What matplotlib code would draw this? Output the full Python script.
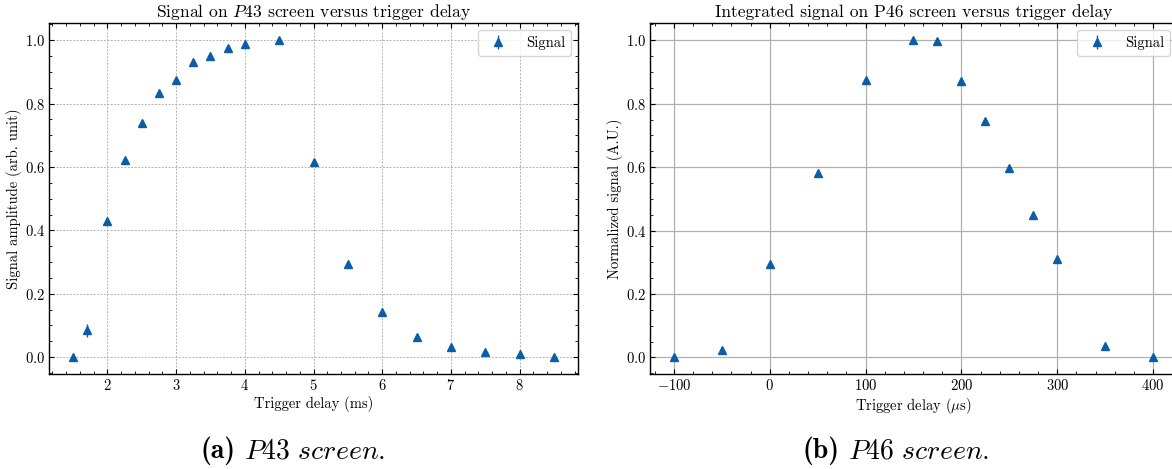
import matplotlib
matplotlib.use('Agg')
import matplotlib.pyplot as plt
from matplotlib.ticker import AutoMinorLocator
from matplotlib.offsetbox import TextArea, HPacker, AnchoredOffsetbox

plt.rcParams.update({
    'font.family': 'cmr10',
    'mathtext.fontset': 'cm',
    'axes.formatter.use_mathtext': True,
    'font.size': 10.5,
    'axes.titlesize': 12.6,
    'axes.linewidth': 1.0,
    'xtick.direction': 'in',
    'ytick.direction': 'in',
    'xtick.top': True,
    'ytick.right': True,
    'xtick.major.size': 3.5,
    'ytick.major.size': 3.5,
    'xtick.minor.size': 2.0,
    'ytick.minor.size': 2.0,
    'xtick.major.pad': 3.0,
    'ytick.major.pad': 3.0,
    'xtick.minor.visible': True,
    'ytick.minor.visible': True,
})

BLUE = '#0C5DA5'

# P43 screen
p43_delay = [1.5, 1.7, 2.0, 2.25, 2.5, 2.75, 3.0, 3.25, 3.5, 3.75, 4.0, 4.5,
             5.0, 5.5, 6.0, 6.5, 7.0, 7.5, 8.0, 8.5]
p43_signal = [0.0, 0.084, 0.431, 0.621, 0.739, 0.833, 0.874, 0.932, 0.95,
              0.977, 0.987, 1.0, 0.615, 0.294, 0.143, 0.063, 0.033, 0.016,
              0.011, 0.0]
p43_err = [0.003, 0.022, 0.005, 0.004, 0.004, 0.004, 0.004, 0.004, 0.004,
           0.004, 0.004, 0.004, 0.006, 0.004, 0.004, 0.003, 0.003, 0.003,
           0.003, 0.003]

# P46 screen
p46_delay = [-100, -50, 0, 50, 100, 150, 175, 200, 225, 250, 275, 300, 350, 400]
p46_signal = [0.0, 0.024, 0.294, 0.58, 0.876, 1.0, 0.999, 0.872, 0.745,
              0.597, 0.448, 0.311, 0.037, 0.001]
p46_err = [0.002, 0.003, 0.004, 0.004, 0.004, 0.004, 0.004, 0.004, 0.004,
           0.004, 0.004, 0.004, 0.003, 0.002]

captions = [('(a)', 'P43 screen.'), ('(b)', 'P46 screen.')]

W, H = 1172, 469
fig = plt.figure(figsize=(W / 100, H / 100), dpi=100)

ax1 = fig.add_axes([49 / W, (H - 374) / H, 529 / W, 351 / H])
ax2 = fig.add_axes([650 / W, (H - 374) / H, 527 / W, 351 / H])

ax1.errorbar(p43_delay, p43_signal, yerr=p43_err, fmt='^', color=BLUE,
             ms=6, elinewidth=1.0, capsize=0, label='Signal', zorder=3)
ax1.grid(True, linestyle=(0, (2, 1.5)), linewidth=0.7, color='#b4b4b4')
ax1.set_title('Signal on $P43$ screen versus trigger delay', pad=4)
ax1.set_xlabel('Trigger delay (ms)', labelpad=2)
ax1.set_ylabel('Signal amplitude (arb. unit)', labelpad=2)

ax2.errorbar(p46_delay, p46_signal, yerr=p46_err, fmt='^', color=BLUE,
             ms=6, elinewidth=1.0, capsize=0, label='Signal', zorder=3)
ax2.grid(True, color='#b0b0b0', linewidth=0.9)
ax2.set_title('Integrated signal on P46 screen versus trigger delay', pad=4)
ax2.set_xlabel(r'Trigger delay ($\mu$s)', labelpad=2)
ax2.set_ylabel('Normalized signal (A.U.)', labelpad=2)

for ax in (ax1, ax2):
    ax.set_axisbelow(True)
    ax.xaxis.set_minor_locator(AutoMinorLocator(5))
    ax.yaxis.set_minor_locator(AutoMinorLocator(4))
    ax.legend(loc='upper right', handletextpad=0.9)

# subfigure captions
for (tag, text), xc in zip(captions, [293, 896]):
    parts = [
        TextArea(tag, textprops=dict(family='cmb10', fontsize=20)),
        TextArea(r'$\mathit{%s}$' % text.replace(' ', r'\ '),
                 textprops=dict(fontsize=20)),
        ]
    pack = HPacker(children=parts, align='baseline', pad=0, sep=6)
    box = AnchoredOffsetbox(loc='center', child=pack, pad=0, borderpad=0,
                            frameon=False, bbox_to_anchor=(xc / W, 18 / H),
                            bbox_transform=fig.transFigure)
    fig.add_artist(box)

fig.savefig('out.png', dpi=100)
